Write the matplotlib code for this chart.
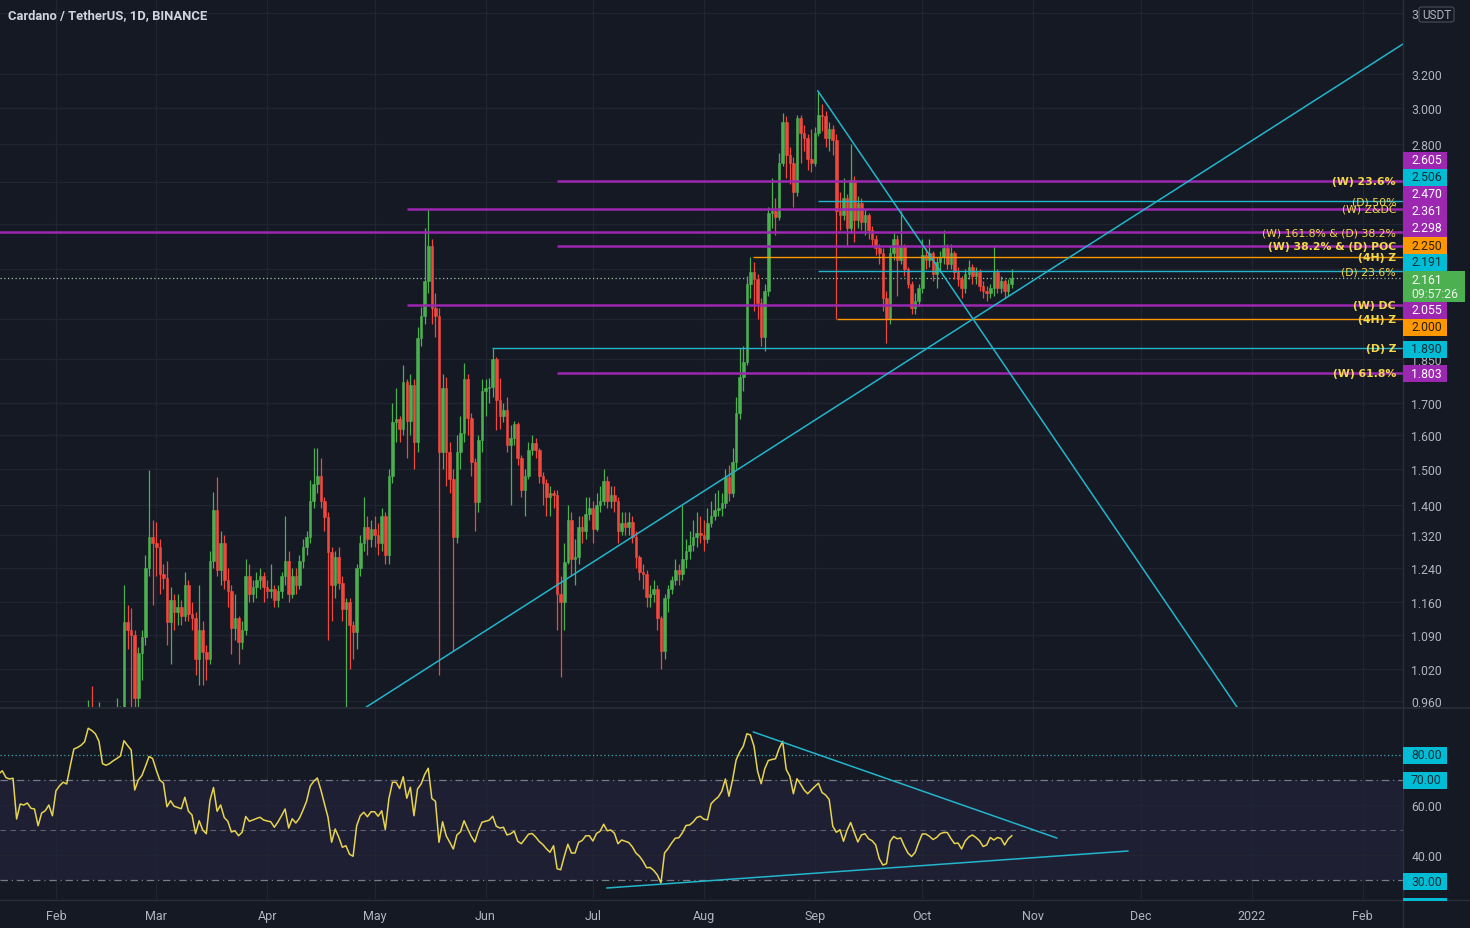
import matplotlib
matplotlib.use('Agg')
import matplotlib.pyplot as plt
import matplotlib.dates as mdates
from matplotlib.patches import Rectangle, FancyBboxPatch
from matplotlib.lines import Line2D
from matplotlib.ticker import FixedLocator, FuncFormatter, NullFormatter, NullLocator
import pandas as pd

plt.rcParams['font.family'] = ['Roboto', 'DejaVu Sans']

# --- daily candles ADA/USDT (first day 2021-02-10) ---
first_day = '2021-02-10'
first_open = 0.80
closes = [
    0.90, 0.88, 0.92, 0.93, 0.84, 0.85, 0.87, 0.90, 0.92, 0.93,
    1.118, 1.10, 1.09, 0.965, 1.052, 1.086, 1.24, 1.315, 1.30, 1.29,
    1.225, 1.215, 1.118, 1.165, 1.14, 1.15, 1.13, 1.20, 1.135, 1.125,
    1.04, 1.10, 1.055, 1.04, 1.255, 1.385, 1.235, 1.30, 1.21, 1.185,
    1.105, 1.125, 1.075, 1.10, 1.22, 1.18, 1.195, 1.21, 1.22, 1.195,
    1.185, 1.19, 1.165, 1.185, 1.22, 1.255, 1.18, 1.22, 1.20, 1.257,
    1.29, 1.315, 1.41, 1.455, 1.48, 1.41, 1.366, 1.278, 1.20, 1.265,
    1.205, 1.145, 1.16, 1.11, 1.095, 1.24, 1.30, 1.34, 1.31, 1.335,
    1.32, 1.30, 1.37, 1.27, 1.48, 1.64, 1.65, 1.62, 1.77, 1.645,
    1.76, 1.58, 1.927, 2.01, 2.15, 2.30, 2.04, 2.01, 1.55, 1.75,
    1.55, 1.47, 1.315, 1.55, 1.607, 1.78, 1.654, 1.518, 1.406, 1.585,
    1.74, 1.75, 1.755, 1.85, 1.71, 1.66, 1.68, 1.57, 1.59, 1.635,
    1.53, 1.44, 1.48, 1.556, 1.577, 1.556, 1.48, 1.46, 1.42, 1.43,
    1.425, 1.18, 1.16, 1.254, 1.36, 1.26, 1.265, 1.34, 1.33, 1.375,
    1.39, 1.335, 1.40, 1.41, 1.465, 1.41, 1.425, 1.41, 1.33, 1.35,
    1.34, 1.355, 1.315, 1.266, 1.23, 1.225, 1.173, 1.18, 1.19, 1.125,
    1.056, 1.17, 1.19, 1.21, 1.235, 1.225, 1.26, 1.28, 1.295, 1.315,
    1.325, 1.32, 1.31, 1.35, 1.37, 1.385, 1.39, 1.405, 1.475, 1.43,
    1.52, 1.67, 1.79, 1.84, 2.14, 2.19, 2.16, 2.06, 1.93, 2.11,
    2.45, 2.46, 2.43, 2.70, 2.92, 2.74, 2.70, 2.55, 2.94, 2.86,
    2.83, 2.72, 2.70, 2.86, 2.96, 2.95, 2.83, 2.88, 2.82, 2.46,
    2.44, 2.52, 2.38, 2.61, 2.42, 2.50, 2.41, 2.44, 2.37, 2.33,
    2.29, 2.27, 2.08, 2.00, 2.27, 2.33, 2.24, 2.30, 2.20, 2.14,
    2.04, 2.07, 2.12, 2.26, 2.24, 2.27, 2.18, 2.23, 2.25, 2.29,
    2.22, 2.27, 2.19, 2.16, 2.12, 2.18, 2.21, 2.17, 2.19, 2.13,
    2.11, 2.10, 2.12, 2.19, 2.12, 2.15, 2.11, 2.14, 2.161,
]
highs = [
    0.962, 0.988, 0.945, 0.958, 0.94, 0.90, 0.91, 0.93, 0.965, 0.95,
    1.20, 1.155, 1.147, 1.10, 1.065, 1.10, 1.27, 1.495, 1.36, 1.355,
    1.31, 1.25, 1.255, 1.195, 1.18, 1.18, 1.165, 1.23, 1.21, 1.16,
    1.14, 1.20, 1.12, 1.07, 1.28, 1.433, 1.475, 1.33, 1.32, 1.24,
    1.20, 1.18, 1.13, 1.12, 1.26, 1.25, 1.21, 1.23, 1.24, 1.23,
    1.21, 1.25, 1.20, 1.20, 1.23, 1.37, 1.28, 1.24, 1.24, 1.27,
    1.31, 1.33, 1.467, 1.562, 1.56, 1.53, 1.42, 1.38, 1.29, 1.28,
    1.29, 1.22, 1.17, 1.17, 1.12, 1.25, 1.32, 1.42, 1.37, 1.36,
    1.37, 1.35, 1.39, 1.38, 1.50, 1.70, 1.75, 1.66, 1.83, 1.78,
    1.80, 1.78, 1.97, 2.045, 2.38, 2.47, 2.33, 2.10, 2.04, 1.80,
    1.79, 1.58, 1.50, 1.60, 1.66, 1.837, 1.80, 1.67, 1.53, 1.60,
    1.78, 1.78, 1.785, 1.89, 1.86, 1.785, 1.70, 1.72, 1.63, 1.645,
    1.64, 1.54, 1.50, 1.58, 1.60, 1.59, 1.56, 1.49, 1.47, 1.45,
    1.44, 1.44, 1.22, 1.30, 1.40, 1.38, 1.31, 1.37, 1.37, 1.42,
    1.42, 1.41, 1.43, 1.45, 1.50, 1.48, 1.45, 1.45, 1.42, 1.38,
    1.38, 1.38, 1.37, 1.33, 1.27, 1.25, 1.235, 1.20, 1.21, 1.20,
    1.13, 1.18, 1.20, 1.22, 1.26, 1.25, 1.40, 1.31, 1.33, 1.36,
    1.38, 1.37, 1.36, 1.39, 1.41, 1.43, 1.44, 1.43, 1.50, 1.51,
    1.56, 1.72, 1.89, 1.90, 2.17, 2.25, 2.23, 2.18, 2.08, 2.14,
    2.48, 2.62, 2.52, 2.75, 2.97, 2.95, 2.78, 2.73, 2.96, 2.96,
    2.90, 2.85, 2.88, 2.89, 3.10, 3.02, 2.98, 2.92, 2.90, 2.85,
    2.55, 2.62, 2.54, 2.80, 2.63, 2.53, 2.52, 2.47, 2.45, 2.39,
    2.35, 2.31, 2.29, 2.11, 2.30, 2.36, 2.35, 2.46, 2.31, 2.21,
    2.15, 2.10, 2.14, 2.33, 2.29, 2.33, 2.28, 2.25, 2.28, 2.37,
    2.31, 2.31, 2.28, 2.21, 2.17, 2.20, 2.24, 2.22, 2.21, 2.20,
    2.15, 2.13, 2.14, 2.298, 2.20, 2.17, 2.16, 2.16, 2.20,
]
lows = [
    0.78, 0.84, 0.86, 0.88, 0.80, 0.81, 0.83, 0.86, 0.88, 0.89,
    0.92, 1.06, 0.93, 0.80, 0.93, 1.00, 1.07, 1.22, 1.155, 1.22,
    1.18, 1.19, 1.07, 1.03, 1.10, 1.11, 1.11, 1.12, 1.12, 1.10,
    1.01, 0.99, 0.99, 1.00, 1.03, 1.24, 1.22, 1.20, 1.19, 1.15,
    1.05, 1.08, 1.03, 1.06, 1.09, 1.16, 1.16, 1.17, 1.19, 1.16,
    1.17, 1.17, 1.15, 1.15, 1.17, 1.20, 1.16, 1.17, 1.18, 1.19,
    1.24, 1.27, 1.30, 1.39, 1.43, 1.39, 1.33, 1.08, 1.12, 1.17,
    1.19, 1.12, 0.93, 1.02, 1.04, 1.06, 1.22, 1.28, 1.27, 1.29,
    1.29, 1.27, 1.28, 1.25, 1.25, 1.46, 1.58, 1.58, 1.60, 1.53,
    1.60, 1.50, 1.55, 1.90, 1.98, 2.10, 1.98, 1.93, 1.01, 1.50,
    1.45, 1.43, 1.056, 1.30, 1.50, 1.58, 1.60, 1.48, 1.33, 1.38,
    1.55, 1.66, 1.70, 1.72, 1.615, 1.62, 1.64, 1.55, 1.40, 1.57,
    1.51, 1.42, 1.37, 1.47, 1.54, 1.53, 1.46, 1.40, 1.37, 1.37,
    1.39, 1.10, 1.005, 1.10, 1.25, 1.22, 1.20, 1.25, 1.30, 1.31,
    1.36, 1.30, 1.33, 1.38, 1.40, 1.39, 1.39, 1.38, 1.30, 1.32,
    1.32, 1.32, 1.30, 1.24, 1.21, 1.19, 1.15, 1.15, 1.16, 1.10,
    1.02, 1.04, 1.14, 1.18, 1.20, 1.20, 1.21, 1.24, 1.26, 1.28,
    1.29, 1.30, 1.28, 1.30, 1.34, 1.36, 1.37, 1.37, 1.39, 1.41,
    1.42, 1.50, 1.65, 1.74, 1.83, 2.08, 2.03, 2.00, 1.90, 1.88,
    2.09, 2.38, 2.35, 2.42, 2.68, 2.62, 2.59, 2.48, 2.53, 2.70,
    2.76, 2.66, 2.65, 2.68, 2.84, 2.87, 2.78, 2.76, 2.74, 2.00,
    2.37, 2.42, 2.30, 2.36, 2.32, 2.38, 2.37, 2.35, 2.33, 2.30,
    2.26, 2.22, 2.03, 1.91, 1.98, 2.24, 2.09, 2.22, 2.17, 2.12,
    2.02, 2.02, 2.05, 2.10, 2.20, 2.21, 2.15, 2.12, 2.19, 2.22,
    2.20, 2.20, 2.16, 2.13, 2.08, 2.10, 2.16, 2.14, 2.14, 2.11,
    2.08, 2.07, 2.08, 2.09, 2.10, 2.10, 2.08, 2.09, 2.12,
]

# --- RSI(14) (first day 2021-01-16) ---
rsi_first_day = '2021-01-16'
rsi = [
    72.4, 73.7, 71.0, 70.4, 70.7, 54.4, 60.4, 60.0, 60.8, 58.7,
    58.4, 51.7, 56.8, 57.7, 60.0, 55.7, 65.7, 67.7, 69.1, 68.4,
    75.7, 82.4, 83.0, 83.9, 85.3, 90.7, 89.8, 88.5, 85.5, 76.5,
    75.9, 76.6, 77.7, 78.6, 79.6, 85.7, 83.8, 82.0, 66.0, 70.0,
    71.8, 75.5, 79.4, 78.6, 74.0, 70.0, 68.8, 59.3, 61.7, 59.5,
    59.0, 58.5, 63.1, 57.5, 56.0, 48.5, 53.7, 50.0, 48.5, 61.7,
    67.0, 57.5, 60.0, 55.0, 53.5, 49.2, 49.7, 47.7, 49.1, 55.4,
    53.5, 54.0, 54.6, 55.1, 54.0, 53.6, 53.3, 51.1, 53.2, 55.7,
    58.4, 50.8, 54.5, 52.8, 54.7, 57.9, 61.5, 67.5, 69.5, 70.8,
    66.0, 60.5, 55.0, 45.1, 50.4, 47.1, 43.1, 43.7, 40.3, 39.5,
    51.7, 55.7, 57.1, 55.3, 57.3, 57.3, 55.5, 57.7, 50.2, 62.5,
    69.1, 69.1, 66.6, 71.3, 62.7, 67.1, 55.7, 66.4, 68.4, 72.2,
    74.7, 62.6, 61.5, 45.1, 53.3, 47.7, 45.1, 42.4, 48.0, 49.3,
    53.7, 50.5, 47.5, 45.2, 49.7, 53.1, 53.5, 53.9, 55.5, 51.5,
    50.8, 51.1, 48.0, 48.5, 49.5, 45.5, 44.5, 46.4, 48.3, 48.6,
    47.2, 45.4, 44.2, 42.5, 41.1, 43.7, 34.5, 34.1, 39.5, 44.3,
    40.8, 40.8, 45.1, 45.8, 47.7, 47.7, 45.6, 48.6, 49.5, 52.3,
    49.7, 50.0, 48.7, 44.5, 46.0, 45.5, 45.0, 43.3, 40.8, 39.5,
    37.5, 34.9, 35.0, 33.8, 32.0, 28.8, 40.8, 42.6, 44.8, 46.7,
    46.9, 48.9, 51.8, 52.0, 53.2, 55.0, 55.5, 54.3, 54.1, 60.5,
    62.0, 63.2, 65.5, 70.4, 63.5, 70.0, 78.0, 81.2, 83.5, 88.5,
    88.0, 83.5, 73.5, 68.5, 74.5, 77.8, 78.2, 78.5, 82.5, 85.5,
    74.2, 71.5, 64.5, 70.5, 68.4, 66.0, 64.5, 66.0, 67.4, 68.7,
    65.0, 64.0, 62.2, 51.5, 49.1, 50.1, 45.5, 49.9, 53.0, 49.0,
    45.2, 48.0, 48.5, 46.5, 45.7, 44.0, 38.5, 36.0, 36.5, 45.4,
    47.4, 46.5, 46.8, 43.5, 40.8, 39.4, 41.0, 45.0, 48.4, 48.4,
    47.5, 46.2, 47.0, 48.5, 49.0, 49.0, 46.6, 44.6, 44.8, 42.4,
    45.6, 47.2, 48.0, 47.0, 45.7, 43.4, 44.0, 47.0, 46.0, 47.0,
    46.6, 44.0, 46.4, 47.7,
]

# --- horizontal levels drawn on the chart ---
level_prices = [2.605, 2.506, 2.470, 2.361, 2.298, 2.250, 2.191, 2.055, 2.000, 1.890, 1.803]
level_names = ['(W) 23.6%', '(D) 50%', '(W) Z&DC', '(W) 161.8% & (D) 38.2%',
               '(W) 38.2% & (D) POC', '(4H) Z', '(D) 23.6%', '(W) DC', '(4H) Z',
               '(D) Z', '(W) 61.8%']
level_tf = ['W', 'D', 'W', 'W', 'W', '4H', 'D', 'W', '4H', 'D', 'W']
level_from = ['2021-06-20 22:00', '2021-09-01 20:00', '2021-05-10', '2021-01-01',
              '2021-06-20 22:00', '2021-08-14 20:00', '2021-09-01 20:00', '2021-05-10',
              '2021-09-07 02:00', '2021-06-02 20:00', '2021-06-20 22:00']
last_price = 2.161
countdown = '09:57:26'

# --- trend lines: start, value, end, value ---
price_trends = [('2021-04-28 17:00', 0.949, '2022-02-12 07:00', 3.39),
                ('2021-09-01 20:00', 3.098, '2021-12-27 22:00', 0.949)]
rsi_trends = [('2021-08-14 20:00', 89.2, '2021-11-07 14:00', 46.8),
              ('2021-07-04 22:00', 26.8, '2021-11-27 10:00', 41.6)]

price_ticks = [3.6, 3.2, 3.0, 2.8, 2.6, 2.4, 2.2, 2.0, 1.85, 1.7, 1.6, 1.5,
               1.4, 1.32, 1.24, 1.16, 1.09, 1.02, 0.96]
covered_ticks = [2.6, 2.4, 2.2, 2.0]   # their labels sit under the level badges

# ---------------- style / layout ----------------
W, H = 1470, 929
PLOT_R = 1403
BG = '#151924'
GRID = '#212531'
SEP = '#2a2e39'
TXT = '#b2b5be'
UP, DOWN = '#4caf50', '#f0483c'
PURPLE, CYAN, ORANGE = '#9c27b0', '#22b5cc', '#ff9800'
BOX_CYAN = '#00bcd4'
YELLOW = '#f4d74a'
tf_color = {'W': PURPLE, 'D': CYAN, '4H': ORANGE}
tf_box = {'W': (PURPLE, '#ffffff'), 'D': (BOX_CYAN, '#10303a'), '4H': (ORANGE, '#2a1e00')}
tf_width = {'W': 1.8, 'D': 1.0, '4H': 1.0}
label_bold = [True, False, False, False, True, True, False, True, True, True, True]
box_y = [161, 178, 195, 212, 229, 246, 263, 311, 328, 350, 374]   # stacked axis labels (px)


def fx(px):
    return px / W


def fy(py):
    return 1 - py / H


fig = plt.figure(figsize=(W / 100, H / 100), dpi=100)
fig.patch.set_facecolor(BG)
ax = fig.add_axes([0, fy(708), fx(PLOT_R), 708 / H])
ax2 = fig.add_axes([0, fy(900), fx(PLOT_R), (900 - 709) / H])

t0 = mdates.date2num(pd.Timestamp('2021-02-01'))
xlim = (t0 - 15.64, t0 + 376.3)


def month_label(v, pos=None):
    d = mdates.num2date(v)
    return str(d.year) if d.month == 1 else d.strftime('%b')


def price_label(v, pos=None):
    if any(abs(v - c) < 1e-9 for c in covered_ticks):
        return ''
    return f'{v:.3f}'


for a in (ax, ax2):
    a.set_facecolor(BG)
    a.set_xlim(*xlim)
    for s in a.spines.values():
        s.set_visible(False)
    a.xaxis.set_major_locator(mdates.MonthLocator())
    a.xaxis.set_major_formatter(FuncFormatter(month_label))
    a.grid(True, color=GRID, lw=0.9)
    a.set_axisbelow(True)
    a.yaxis.tick_right()

# ---- candles ----
dates = mdates.date2num(pd.date_range(first_day, periods=len(closes), freq='D'))
opens = [first_open] + closes[:-1]
cols = [UP if c >= o else DOWN for o, c in zip(opens, closes)]
bottoms = [min(o, c) for o, c in zip(opens, closes)]
heights = [abs(c - o) for o, c in zip(opens, closes)]
ax.vlines(dates, lows, highs, colors=cols, lw=0.9, zorder=3)
ax.bar(dates, heights, width=0.72, bottom=bottoms, color=cols, edgecolor=cols, lw=0.4, zorder=4)

ax.set_yscale('log')
ax.set_ylim(0.949, 3.696)
ax.yaxis.set_major_locator(FixedLocator(price_ticks))
ax.yaxis.set_minor_locator(NullLocator())
ax.yaxis.set_major_formatter(FuncFormatter(price_label))
ax.yaxis.set_minor_formatter(NullFormatter())
ax.tick_params(axis='y', length=0, pad=6, labelsize=8.8, labelcolor=TXT)
ax.tick_params(axis='x', length=0, labelbottom=False)

# ---- levels ----
for price, name, tf, start, bold in zip(level_prices, level_names, level_tf, level_from, label_bold):
    x0 = mdates.date2num(pd.Timestamp(start))
    ax.hlines(price, x0, xlim[1], color=tf_color[tf], lw=tf_width[tf], zorder=5)
    ax.text(1396 / PLOT_R, price, name, transform=ax.get_yaxis_transform(),
            ha='right', va='center', fontsize=7.8, color=YELLOW, family='DejaVu Sans',
            fontweight='bold' if bold else 'normal', zorder=7)

ax.axhline(last_price, color='#a3c6a5', lw=0.9, ls=(0, (1, 2)), zorder=2)

for s, v0, e, v1 in price_trends:
    ax.plot(mdates.date2num([pd.Timestamp(s), pd.Timestamp(e)]), [v0, v1],
            color=CYAN, lw=1.1, zorder=6)

# ---- RSI pane ----
rsi_dates = mdates.date2num(pd.date_range(rsi_first_day, periods=len(rsi), freq='D'))
ax2.set_ylim(22.4, 98.8)
ax2.axhspan(30, 70, color='#7e57c2', alpha=0.1, lw=0, zorder=0)
ax2.axhline(80, color='#3fa8a8', lw=0.9, ls=(0, (1, 2)), zorder=1)
ax2.axhline(70, color='#787b86', lw=0.9, ls=(0, (6, 3, 1, 3)), zorder=1)
ax2.axhline(50, color='#787b86', lw=0.8, ls=(0, (5, 4)), alpha=0.7, zorder=1)
ax2.axhline(30, color='#787b86', lw=0.9, ls=(0, (6, 3, 1, 3)), zorder=1)
ax2.plot(rsi_dates, rsi, color='#e6d350', lw=1.1, zorder=4)
for s, v0, e, v1 in rsi_trends:
    ax2.plot(mdates.date2num([pd.Timestamp(s), pd.Timestamp(e)]), [v0, v1],
             color=CYAN, lw=1.1, zorder=5)
ax2.yaxis.set_major_locator(FixedLocator([40, 60]))
ax2.yaxis.set_major_formatter(FuncFormatter(lambda v, p: f'{v:.2f}'))
ax2.tick_params(axis='y', length=0, pad=6, labelsize=8.8, labelcolor=TXT)
ax2.tick_params(axis='x', length=0, pad=7, labelsize=9, labelcolor=TXT)

# ---- frame lines ----
fig.add_artist(Line2D([0, 1], [fy(708.5)] * 2, color=SEP, lw=1.2, transform=fig.transFigure))
fig.add_artist(Line2D([0, 1], [fy(900.5)] * 2, color=SEP, lw=1.0, transform=fig.transFigure))
fig.add_artist(Line2D([fx(PLOT_R)] * 2, [0, 1], color=SEP, lw=1.0, transform=fig.transFigure))


def axis_box(y, text, face, fg, w=44, h=17):
    fig.add_artist(Rectangle((fx(PLOT_R), fy(y + h / 2)), w / W, h / H,
                             transform=fig.transFigure, facecolor=face, edgecolor='none', zorder=5))
    fig.text(fx(1411), fy(y), text, color=fg, fontsize=8.8, ha='left', va='center', zorder=6)


for price, tf, yb in zip(level_prices, level_tf, box_y):
    face, fg = tf_box[tf]
    axis_box(yb, f'{price:.3f}', face, fg)

# current price + countdown
fig.add_artist(Rectangle((fx(PLOT_R), fy(303)), 62 / W, 31 / H, transform=fig.transFigure,
                         facecolor=UP, edgecolor='none', zorder=5))
fig.text(fx(1411), fy(280.5), f'{last_price:.3f}', color='#ffffff', fontsize=8.8,
         ha='left', va='center', zorder=6)
fig.text(fx(1411), fy(295), countdown, color='#e8f5e9', fontsize=8.8,
         ha='left', va='center', zorder=6)

# RSI level boxes
for lv, yb in zip([80, 70, 30], [756, 781, 882]):
    axis_box(yb, f'{lv:.2f}', BOX_CYAN, '#10303a')
fig.add_artist(Rectangle((fx(PLOT_R), fy(902)), 44 / W, 3 / H, transform=fig.transFigure,
                         facecolor=BOX_CYAN, edgecolor='none', zorder=5))

# currency badge
fig.add_artist(FancyBboxPatch((fx(1419), fy(23)), 35 / W, 15 / H, transform=fig.transFigure,
                              boxstyle='round,pad=0,rounding_size=0.002',
                              facecolor=BG, edgecolor='#4a4e59', lw=0.8, zorder=5))
fig.text(fx(1436.5), fy(15.5), 'USDT', color=TXT, fontsize=8.5, ha='center', va='center', zorder=6)

fig.text(fx(8), fy(16), 'Cardano / TetherUS, 1D, BINANCE', color='#d1d4dc',
         fontsize=9.4, fontweight='bold', ha='left', va='center')

fig.savefig('out.png', dpi=100, facecolor=BG)
